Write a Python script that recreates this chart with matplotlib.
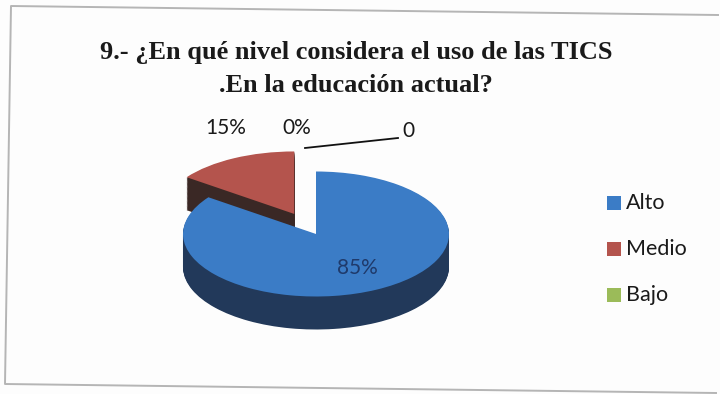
import matplotlib
matplotlib.use("Agg")
import matplotlib.pyplot as plt
from matplotlib.patches import Rectangle
import numpy as np

categories = ["Alto", "Medio", "Bajo"]
values = [85, 15, 0]
pct_labels = ["85%", "15%", "0%"]
zero_label = "0"
title_lines = ["9.- ¿En qué nivel considera el uso de las TICS", ".En la educación actual?"]

top_colors = ["#3B7CC6", "#B4544D", "#9BBB59"]
side_colors = ["#22395A", "#3A2825", "#4F6030"]
explode = [0.0, 0.36, 0.0]

W, H = 720, 394
fig = plt.figure(figsize=(W / 100, H / 100), dpi=100)
fig.patch.set_facecolor("#FDFDFD")

def px(x, y):
    return x / W, 1 - y / H

# outer border (scanned, slightly tilted; right edge faded)
bx = [718, 11, 5, 716]
by = [15, 6, 384, 393]
fig.lines.append(plt.Line2D([px(x, y)[0] for x, y in zip(bx, by)],
                            [px(x, y)[1] for x, y in zip(bx, by)],
                            transform=fig.transFigure, color="#B5B5B5", linewidth=1.4))

# title
for k, line in enumerate(title_lines):
    fig.text(*px(356, 53 + 32 * k), line, ha="center", va="center",
             family="Liberation Serif", weight="bold", fontsize=19, color="#1A1A1A")

# pie axes: unit radius -> rx, ry pixels
rx, ry = 133, 62.5
cx, cy = 316, 234
axw, axh = 3 * rx, 3 * ry
ax = fig.add_axes([(cx - axw / 2) / W, (H - cy - axh / 2) / H, axw / W, axh / H])

thick = 33 / ry
n_layers = 40
nz = [v if v > 0 else 1e-9 for v in values]

def draw_slice(i):
    for k in range(n_layers, -1, -1):
        dz = thick * k / n_layers
        wedges, _ = ax.pie(nz, explode=explode, startangle=90, counterclock=False,
                           colors=top_colors, center=(0, -dz), radius=1.0,
                           wedgeprops=dict(linewidth=0))
        for j, w in enumerate(wedges):
            if j != i:
                w.remove()
            elif k > 0:
                w.set_facecolor(side_colors[i])

draw_slice(1)
draw_slice(0)
ax.set_aspect("auto")
ax.set_xlim(-1.5, 1.5)
ax.set_ylim(-1.5, 1.5)
ax.axis("off")

# data labels
lab_font = dict(family="Lato", fontsize=15)
fig.text(*px(357, 268), pct_labels[0], ha="center", va="center", color="#1F3A6B", **lab_font)
fig.text(*px(226, 128), pct_labels[1], ha="center", va="center", color="#1A1A1A", **lab_font)
fig.text(*px(297, 128), pct_labels[2], ha="center", va="center", color="#1A1A1A", **lab_font)
fig.text(*px(408, 131), zero_label, ha="center", va="center", color="#1A1A1A", **lab_font)
lx, ly = zip(px(305, 148), px(398, 138))
fig.lines.append(plt.Line2D(lx, ly, transform=fig.transFigure, color="#111111", linewidth=1.3))

# legend
for i, (name, col) in enumerate(zip(categories, top_colors)):
    y = 203 + 46 * i
    fig.patches.append(Rectangle(px(607, y + 7), 14 / W, 14 / H,
                                 transform=fig.transFigure, facecolor=col, edgecolor="none"))
    fig.text(*px(626, y), name, ha="left", va="center", color="#1A1A1A",
             family="Lato", fontsize=15.5)

fig.savefig("out.png", dpi=100, facecolor=fig.get_facecolor())
